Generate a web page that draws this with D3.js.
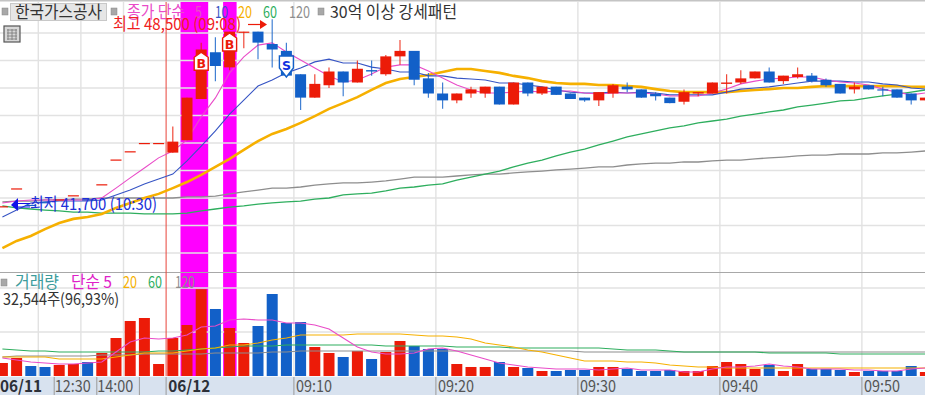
<!DOCTYPE html>
<html>
<head>
<meta charset="utf-8">
<script src="https://cdn.jsdelivr.net/npm/d3@7"></script>
<style>
  html, body { margin: 0; padding: 0; background: #fff; overflow: hidden; }
  svg { display: block; }
</style>
</head>
<body>
<svg id="chart" width="925" height="395"></svg>
<script>
const opens = [41700,42350,41750,41850,41950,42100,41950,42500,43400,43700,44000,44000,43650,44100,45600,47300,46750,48050,48050,47600,47350,46500,45650,46100,46600,46200,46650,46500,47150,47350,46350,45800,45550,45800,45800,46050,45400,46200,45800,46050,45800,45650,45550,45800,46050,45950,45800,45650,45500,45800,45800,46150,46200,46350,46600,46250,46400,46450,46300,46150,45950,46100,45950,45950,45800,45550];
const highs = [41700,42350,41750,41850,41950,42100,41950,42500,43400,43700,44000,44000,44600,45650,47650,47850,48050,48050,48050,48500,47650,46500,46500,46750,46600,47000,47000,47200,47750,47350,46550,46200,45800,46050,46050,46050,46200,46200,46050,46050,45800,45650,45850,46150,46200,45950,45850,45650,45950,45850,46200,46500,46650,46600,46750,46450,46750,46550,46350,46150,46200,46100,46050,45950,45800,45650];
const lows = [41700,42350,41750,41850,41950,42100,41950,42500,43400,43700,44000,44000,43650,44100,45600,46250,46650,47450,47050,46750,46450,45200,45650,46000,45700,46200,46450,46450,46850,46100,45650,45250,45450,45650,45650,45400,45400,45700,45750,45750,45600,45500,45350,45650,45850,45650,45550,45450,45400,45700,45800,45800,46150,46350,46200,46150,46350,46200,46050,45800,45800,45950,45700,45650,45400,45550];
const closes = [41700,42350,41750,41850,41950,42100,41950,42500,43400,43700,44000,44000,44050,45650,47400,46800,48050,48050,47650,47400,46450,45650,46150,46600,46200,46700,46600,47150,47350,46300,45800,45550,45800,45950,46050,45400,46200,45800,46050,45750,45600,45550,45850,46100,45950,45650,45700,45450,45850,45850,46200,46200,46350,46600,46200,46450,46500,46250,46100,45800,46050,45950,45950,45650,45550,45650];
// true = red candle, false = blue (doji colours can't be derived from open/close)
const upDays = [1,1,0,0,1,1,0,1,1,1,1,1,1,1,1,0,1,1,0,0,0,0,1,1,0,1,0,1,1,0,0,0,1,1,1,0,1,0,1,0,0,0,1,1,0,0,0,0,1,1,1,1,1,1,0,1,1,0,0,0,1,0,0,0,0,1];

const ma5 = [41820,41890,41930,41930,41930,41930,41930,42000,42360,42730,43090,43460,43710,44110,44950,45640,46550,47130,47560,47640,47310,47020,46730,46440,46220,46290,46510,46760,46840,46840,46620,46360,46110,45930,45820,45820,45850,45890,45850,45890,45890,45820,45780,45820,45820,45820,45780,45710,45710,45710,45820,45960,46150,46250,46330,46360,46400,46400,46290,46220,46180,46110,45960,45850,45750,45820];
const ma10 = [41310,41560,41820,41860,41890,41890,41890,41930,42110,42290,42510,42690,42870,43350,43890,44440,45050,45560,46070,46290,46550,46730,46950,47050,46910,46910,46760,46690,46580,46580,46440,46440,46360,46330,46290,46180,46180,46110,46040,45930,45850,45820,45820,45850,45820,45850,45820,45750,45750,45750,45750,45850,45960,46000,46040,46110,46180,46250,46250,46250,46220,46220,46150,46110,46000,45960];
const ma20 = [40180,40440,40620,40870,41090,41240,41310,41420,41640,41820,42000,42150,42360,42580,42840,43130,43420,43750,44070,44330,44510,44730,44980,45240,45450,45670,45930,46180,46330,46400,46470,46580,46690,46690,46620,46550,46440,46360,46250,46180,46150,46150,46110,46110,46070,46040,45960,45890,45850,45850,45850,45850,45890,45930,45960,46000,46000,46040,46070,46070,46070,46070,46070,46070,46040,46040];
const ma60 = [41710,41640,41600,41560,41530,41490,41490,41450,41450,41450,41420,41420,41420,41450,41530,41600,41670,41710,41780,41820,41860,41890,41960,42000,42110,42150,42180,42260,42360,42400,42470,42510,42650,42760,42870,42980,43130,43270,43380,43530,43670,43780,43930,44070,44220,44330,44440,44550,44620,44730,44800,44870,44980,45050,45130,45200,45310,45380,45450,45530,45560,45640,45710,45780,45850,45930];
const ma120 = [41860,41890,41890,41930,41930,41960,41960,42000,42000,42000,42000,42000,42000,42040,42040,42070,42150,42220,42290,42360,42360,42400,42470,42510,42550,42550,42580,42620,42690,42760,42760,42760,42800,42840,42870,42870,42910,42950,42980,43020,43050,43090,43130,43130,43200,43240,43270,43270,43310,43310,43350,43380,43380,43420,43460,43490,43530,43560,43560,43600,43600,43600,43640,43640,43670,43710];

const volumes = [4880,6750,3750,3380,4130,4500,5250,8630,14250,20630,21750,4500,14250,19130,32544,25130,18000,12380,18750,30750,19880,20250,10880,8630,7130,9380,6380,9000,13130,11250,10130,10130,4500,3380,3380,5250,3380,3000,1880,1880,2250,2250,3380,3380,2630,1880,1880,2250,1880,1880,3750,5250,4500,2630,4130,1880,4500,2630,2630,2250,1500,1880,1880,1880,3750,1500];
const volMa5 = [6750,6000,5250,4880,4500,4500,4880,5250,9000,12750,14250,13880,14250,15380,18380,18750,21000,21380,21000,21000,19880,19880,19130,17630,14250,10880,9000,8250,8250,8630,10130,10500,9380,7880,6380,4880,4130,3380,3000,2630,2630,2630,2250,2630,3000,2250,2250,2250,1500,1500,2630,3380,3380,3750,4500,3750,3380,2630,2630,2630,2250,2250,1880,1880,2630,3000];
const volMa20 = [7130,7130,7130,7130,6380,6380,6380,6380,7130,7880,8630,8630,8630,9380,10130,10500,11630,11630,12380,13500,14250,15380,15380,15380,15380,15750,15750,15750,15750,15380,15000,15000,14630,13880,12380,11630,10880,9750,9000,7880,6750,5630,5630,5630,5250,5250,4880,4130,3750,3380,3380,3000,3000,3000,3000,3000,3000,3000,3000,3000,3000,3000,3000,3000,3000,3000];
const volMa60 = [10130,9750,9380,9380,9000,9000,9000,9000,9000,9000,9000,9380,9380,9750,10130,10500,10880,11250,11250,11250,11630,11630,11630,11630,11630,11630,11630,11250,11250,11250,11250,11250,10880,10880,10880,10880,10500,10500,10500,10500,10500,10500,10500,10130,9750,9750,9750,9380,9000,9000,9000,9000,9000,9000,8630,8630,8630,8630,8630,8250,8250,8250,8250,8250,8250,8250];
const volMa120 = [7130,7500,7500,7500,7500,7500,7500,7880,7880,7880,8250,8250,8250,8250,8250,8630,8630,8630,8630,9000,9000,9380,9380,9380,9380,9380,9380,9380,9380,9380,9380,9380,9380,9380,9380,9380,9380,9380,9380,9380,9380,9000,9000,9000,9000,9000,9000,9000,9000,9000,9000,9000,9000,9000,9000,9000,9000,9000,9000,9000,9000,9000,9000,9000,9000,9000];

const priceTicks = [48000,47000,46000,45000,44000,43000,42000,41000,40000];
const volumeTicks = [16500,33000];
const gridIdx = [3,6,9,21,31,41,51,61];
const signalIdx = 12;
const highlightRanges = [[13,14],[16,16]];
const axisIdx = [0,4,7,12,21,31,41,51,61];
const axisLabels = ["06/11","12:30","14:00","06/12","09:10","09:20","09:30","09:40","09:50"];
const axisBoldIdx = [0,12];
const axisSepIdx = [4,7,10];
const tradeIdx = [14,16,20];
const tradePrices = [47300,48000,46400];
const tradeTypes = ["B","B","S"];

const RED = "#ec1b08", BLUE = "#1260c8";
const PINK = "#e94cc8", NAVY = "#3654c4", ORANGE = "#f6b000", GREEN = "#2eae5e", GRAY = "#8e8e8e";
const GRID = "#e2e2e2";
const KR = "'Noto Sans CJK KR', sans-serif";

const svg = d3.select("#chart");
const idx = d3.range(opens.length);

const x = d3.scaleLinear().domain([21, 61]).range([300.6, 868.6]);
const y = d3.scaleLinear().domain([40000, 48000]).range([253, 33]);
const yVol = d3.scaleLinear().domain([0, 33000]).range([376, 288]);
const barW = 11;
const gridX = i => x(i) - 6.7;

// magenta signal bands sit under the grid
svg.append("g").selectAll("rect")
  .data(highlightRanges)
  .join("rect")
  .attr("x", d => x(d[0]) - 6.5)
  .attr("y", 2)
  .attr("width", d => x(d[1]) - x(d[0]) + 13.5)
  .attr("height", 374)
  .attr("fill", "#ff00ff");

const grid = svg.append("g");
grid.selectAll(".hgrid")
  .data(priceTicks)
  .join("line")
  .attr("x1", 0).attr("x2", 925)
  .attr("y1", d => y(d)).attr("y2", d => y(d))
  .attr("stroke", GRID).attr("stroke-width", 1.4);
grid.selectAll(".vgrid")
  .data(volumeTicks)
  .join("line")
  .attr("x1", 0).attr("x2", 925)
  .attr("y1", d => yVol(d)).attr("y2", d => yVol(d))
  .attr("stroke", GRID).attr("stroke-width", 1.4);
grid.selectAll(".xgrid")
  .data(gridIdx)
  .join("line")
  .attr("x1", gridX).attr("x2", gridX)
  .attr("y1", 2).attr("y2", 376)
  .attr("stroke", GRID).attr("stroke-width", 1.4);

// panel divider and top edge
svg.append("line").attr("x1", 0).attr("x2", 925).attr("y1", 272.5).attr("y2", 272.5).attr("stroke", "#a8a8a8");
svg.append("rect").attr("x", 0).attr("y", 0).attr("width", 925).attr("height", 1.5).attr("fill", "#c4c4c4");

// the red session line
svg.append("line")
  .attr("x1", gridX(signalIdx)).attr("x2", gridX(signalIdx))
  .attr("y1", 2).attr("y2", 376)
  .attr("stroke", "#e8443a").attr("stroke-width", 1);

// moving averages on the price panel
const priceLine = d3.line().x((d, i) => x(i)).y(d => y(d));
const priceSeries = [
  { data: ma120, color: GRAY, w: 1.3 },
  { data: ma60, color: GREEN, w: 1.3 },
  { data: ma20, color: ORANGE, w: 2.6 },
  { data: ma10, color: NAVY, w: 1.1 },
  { data: ma5, color: PINK, w: 1.1 }
];
svg.append("g").selectAll("path")
  .data(priceSeries)
  .join("path")
  .attr("fill", "none")
  .attr("stroke", d => d.color)
  .attr("stroke-width", d => d.w)
  .attr("d", d => priceLine(d.data));

// candles
const candles = svg.append("g");
candles.selectAll(".wick")
  .data(idx)
  .join("line")
  .attr("x1", i => x(i)).attr("x2", i => x(i))
  .attr("y1", i => y(highs[i])).attr("y2", i => y(lows[i]))
  .attr("stroke", i => upDays[i] ? RED : BLUE)
  .attr("stroke-opacity", 0.8)
  .attr("stroke-width", 1.2);
candles.selectAll(".body")
  .data(idx)
  .join("rect")
  .attr("x", i => x(i) - barW / 2)
  .attr("y", i => y(Math.max(opens[i], closes[i])))
  .attr("width", barW)
  .attr("height", i => Math.max(1.2, Math.abs(y(opens[i]) - y(closes[i]))))
  .attr("fill", i => upDays[i] ? RED : BLUE);

// volume bars and their averages
svg.append("g").selectAll("rect")
  .data(idx)
  .join("rect")
  .attr("x", i => x(i) - barW / 2)
  .attr("y", i => yVol(volumes[i]))
  .attr("width", barW)
  .attr("height", i => yVol(0) - yVol(volumes[i]))
  .attr("fill", i => upDays[i] ? RED : BLUE);

const volLine = d3.line().x((d, i) => x(i)).y(d => yVol(d));
const volSeries = [
  { data: volMa120, color: GRAY, w: 1.2 },
  { data: volMa60, color: GREEN, w: 1.1 },
  { data: volMa20, color: ORANGE, w: 1.1 },
  { data: volMa5, color: PINK, w: 1.1 }
];
svg.append("g").selectAll("path")
  .data(volSeries)
  .join("path")
  .attr("fill", "none")
  .attr("stroke", d => d.color)
  .attr("stroke-width", d => d.w)
  .attr("d", d => volLine(d.data));

// time axis strip
svg.append("rect").attr("x", 0).attr("y", 377).attr("width", 925).attr("height", 18).attr("fill", "#d8e2ef");
svg.append("line").attr("x1", 0).attr("x2", 925).attr("y1", 376.5).attr("y2", 376.5).attr("stroke", "#f4f6fa");
const axisSeps = axisSepIdx.map(i => x(i) - 5).concat(gridIdx.slice(3).map(gridX), [gridX(signalIdx)]);
svg.append("g").selectAll("line")
  .data(axisSeps)
  .join("line")
  .attr("x1", d => d).attr("x2", d => d)
  .attr("y1", 377).attr("y2", 395)
  .attr("stroke", "#9a9a9a");

const xAxis = d3.axisBottom(x)
  .tickValues(axisIdx)
  .tickSize(0)
  .tickPadding(0)
  .tickFormat(i => axisLabels[axisIdx.indexOf(i)]);
const axisG = svg.append("g").attr("transform", "translate(0,379)").call(xAxis);
axisG.select(".domain").remove();
axisG.selectAll("text")
  .attr("text-anchor", "start")
  .attr("dy", 0)
  .attr("y", 13)
  .attr("x", i => i === 0 ? -x(0) - 0.5 : -5)
  .attr("font-family", KR)
  .attr("font-size", 16)
  .attr("font-weight", i => axisBoldIdx.includes(i) ? 700 : 400)
  .attr("textLength", i => axisBoldIdx.includes(i) ? 42 : 36)
  .attr("lengthAdjust", "spacingAndGlyphs")
  .attr("fill", i => axisBoldIdx.includes(i) ? "#2c3038" : "#555");

// buy / sell flags
const flags = svg.append("g").selectAll("g")
  .data(tradeIdx)
  .join("g")
  .attr("transform", (i, k) => "translate(" + x(i) + "," + y(tradePrices[k]) + ")");
flags.append("path")
  .attr("d", (i, k) => tradeTypes[k] === "B"
    ? "M0,0L7,5V18H-7V5Z"
    : "M0,0L7,-9V-21H-7V-9Z")
  .attr("fill", "#fff")
  .attr("stroke", (i, k) => tradeTypes[k] === "B" ? RED : BLUE)
  .attr("stroke-width", 1.4);
flags.append("text")
  .attr("text-anchor", "middle")
  .attr("y", (i, k) => tradeTypes[k] === "B" ? 16 : -7)
  .attr("font-family", "'DejaVu Sans', sans-serif")
  .attr("font-weight", 700)
  .attr("font-size", 12.5)
  .attr("fill", (i, k) => tradeTypes[k] === "B" ? RED : "#1030e0")
  .text((i, k) => tradeTypes[k]);

// text helper: width is forced because the original face is narrower than ours
function label(px, py, str, color, size, width, weight) {
  const t = svg.append("text")
    .attr("x", px).attr("y", py)
    .attr("font-family", KR)
    .attr("font-size", size)
    .attr("font-weight", weight || 400)
    .attr("fill", color)
    .text(str);
  if (width) t.attr("textLength", width).attr("lengthAdjust", "spacingAndGlyphs");
  return t;
}
function square(px, py) {
  svg.append("rect").attr("x", px).attr("y", py).attr("width", 6).attr("height", 7)
    .attr("fill", "#a8a8a8").attr("stroke", "#888").attr("stroke-width", 0.5);
}

// header
square(2, 8);
svg.append("rect").attr("x", 10.5).attr("y", 3.5).attr("width", 96).attr("height", 17)
  .attr("fill", "#e6e6e6").attr("stroke", "#c8c8c8");
label(15, 18, "한국가스공사", "#333", 17, 87);
square(111, 8);
label(127, 18, "종가 단순", PINK, 16.5, 58);
label(195, 18, "5", PINK, 16.5, 7);
label(215, 18, "10", NAVY, 16.5, 13);
label(238, 18, "20", ORANGE, 16.5, 14);
label(263, 18, "60", GREEN, 16.5, 14);
label(289, 18, "120", GRAY, 16.5, 21);
square(318, 8);
label(330, 18, "30억 이상 강세패턴", "#333", 16.5, 127);

// table icon
svg.append("rect").attr("x", 4).attr("y", 26).attr("width", 16).attr("height", 16)
  .attr("fill", "#d8d8d8").attr("stroke", "#555").attr("stroke-width", 1.2);
svg.append("path")
  .attr("d", "M7,30H17M7,33H17M7,36H17M7,39H17M8,29V40M12,29V40M16,29V40")
  .attr("stroke", "#777").attr("stroke-width", 0.8).attr("fill", "none");

// high / low annotations
label(113, 30, "최고 48,500 (09:08)", "#f02020", 16.5, 128);
svg.append("path")
  .attr("d", "M248,24.5H260")
  .attr("stroke", RED).attr("stroke-width", 1.2);
svg.append("path").attr("d", "M260,20L267,24.5L260,29Z").attr("fill", RED);

svg.append("path").attr("d", "M11,205L18,198V211Z").attr("fill", "#1010e8");
svg.append("path").attr("d", "M18,203.5H30M18,207H30").attr("stroke", "#1010e8").attr("stroke-width", 1).attr("fill", "none");
label(30, 210, "최저 41,700 (10:30)", "#2030d8", 16.5, 127);

// volume legend
square(1, 279);
label(15, 288, "거래량", "#3d9c9c", 16.5, 44);
label(71, 288, "단순 5", "#e020c8", 16.5, 41);
label(123, 288, "20", ORANGE, 16.5, 14);
label(148, 288, "60", GREEN, 16.5, 14);
label(175, 288, "120", GRAY, 16.5, 20);
label(3, 305, "32,544주(96,93%)", "#333", 16, 116);
</script>
</body>
</html>
